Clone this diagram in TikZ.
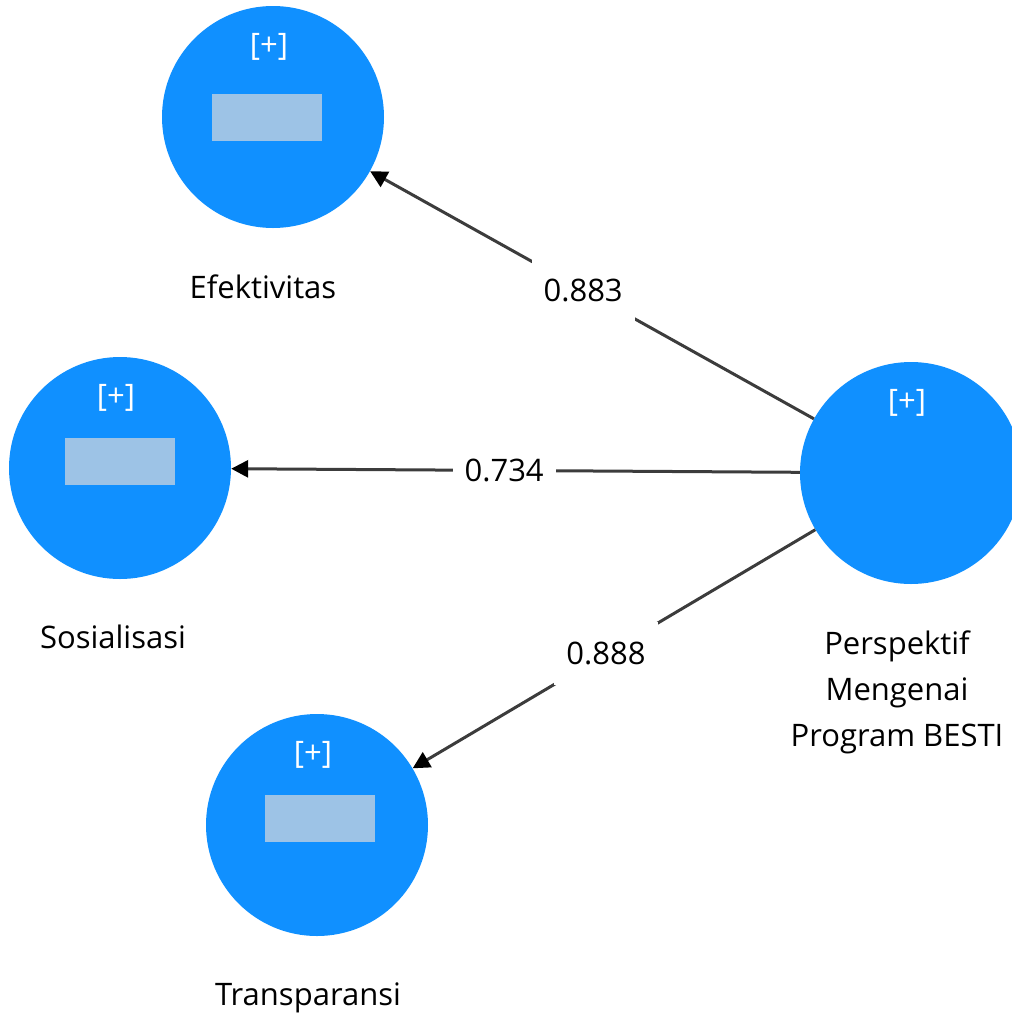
\documentclass[tikz,border=0pt]{standalone}
\usepackage{fontspec}
\setmainfont{Open Sans}
\usetikzlibrary{positioning,arrows.meta}

\definecolor{lvblue}{RGB}{16,144,255}
\definecolor{itemblue}{RGB}{157,195,230}
\definecolor{pathgray}{RGB}{60,60,60}

\tikzset{
  construct/.style={circle, fill=lvblue, minimum size=222pt, inner sep=0pt},
  itembox/.style={rectangle, fill=itemblue, minimum width=110pt, minimum height=47pt, inner sep=0pt},
  expand/.style={text=white, inner sep=0pt},
  cname/.style={align=center, text=black, inner sep=0pt},
  loading/.style={draw=pathgray, line width=3pt, -{Triangle[length=17pt,width=17pt,color=black]}},
  coef/.style={fill=white, text=black, inner xsep=12pt, inner ysep=20pt, pos=0.52}
}

\begin{document}
\begin{tikzpicture}[x=1pt, y=-1pt, font=\fontsize{31}{46}\selectfont]
  \useasboundingbox (0,0) rectangle (1012,1013);

  % latent variables
  \node[construct] (eff) at (273,117) {};
  \node[construct] (sos) at (120,468) {};
  \node[construct] (tra) at (317,825) {};
  \node[construct] (pers) at (911,473) {};

  % collapsed indicators
  \node[itembox] (eff-box) at ([xshift=-6pt]eff.center) {};
  \node[itembox] (sos-box) at ([yshift=7pt]sos.center) {};
  \node[itembox] (tra-box) at ([xshift=3pt,yshift=7pt]tra.center) {};
  \foreach \c in {eff,sos,tra,pers}
    \node[expand] (\c-plus) at ([xshift=-4pt,yshift=70pt]\c.center) {[+]};

  % names under the circles
  \node[cname, below=46pt of eff, xshift=-10pt] (eff-name) {Efektivitas};
  \node[cname, below=46pt of sos, xshift=-7pt] (sos-name) {Sosialisasi};
  \node[cname, below=46pt of tra, xshift=-9pt] (tra-name) {Transparansi};
  \node[cname, below=46pt of pers, xshift=-14pt] (pers-name) {Perspektif\\Mengenai\\Program BESTI};

  % outer loadings
  \draw[loading] (pers) -- node[coef] (eff-coef) {0.883} (eff);
  \draw[loading] (pers) -- node[coef] (sos-coef) {0.734} (sos);
  \draw[loading] (pers) -- node[coef] (tra-coef) {0.888} (tra);
\end{tikzpicture}
\end{document}
